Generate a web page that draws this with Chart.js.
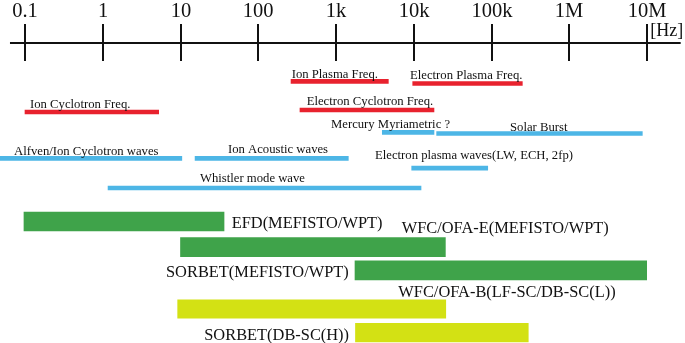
<!DOCTYPE html>
<html><head><meta charset="utf-8">
<script src="https://cdn.jsdelivr.net/npm/chart.js@4/dist/chart.umd.min.js"></script>
<style>html,body{margin:0;padding:0;background:#fff}#wrap{width:685px;height:343px;position:relative}</style>
</head><body><div id="wrap"><canvas id="c"></canvas></div>
<script>
// ---- DATA ----
// frequency axis (Hz)
const tickValues = [0.1, 1, 10, 100, 1e3, 1e4, 1e5, 1e6, 1e7];
const tickLabels = ['0.1', '1', '10', '100', '1k', '10k', '100k', '1M', '10M'];
const axisUnit = '[Hz]';

// bands (categories) and their frequency ranges in Hz
const bandNames = [
  'Ion Plasma Freq.', 'Electron Plasma Freq.', 'Ion Cyclotron Freq.', 'Electron Cyclotron Freq.',
  'Mercury Myriametric ?', 'Solar Burst', 'Alfven/Ion Cyclotron waves', 'Ion Acoustic waves',
  'Electron plasma waves(LW, ECH, 2fp)', 'Whistler mode wave',
  'EFD(MEFISTO/WPT)', 'WFC/OFA-E(MEFISTO/WPT)', 'SORBET(MEFISTO/WPT)',
  'WFC/OFA-B(LF-SC/DB-SC(L))', 'SORBET(DB-SC(H))'
];
const bandLow  = [264, 9700, 0.1, 344, 3940, 19700, 0.04, 15.4, 9410, 1.17, 0.097, 10, 1755, 9.2, 1780];
const bandHigh = [4710, 249000, 5.24, 18200, 18200, 8.7e6, 10.4, 1440, 89400, 12400, 36.3, 25500, 9.9e6, 25800, 297000];
const bandGroup = ['freq', 'freq', 'freq', 'freq', 'wave', 'wave', 'wave', 'wave', 'wave', 'wave',
                   'efield', 'efield', 'efield', 'bfield', 'bfield'];

// ---- LAYOUT / STYLE (not data) ----
const lane = [81.3, 83.5, 112, 110, 132.3, 133.5, 158.3, 158.3, 168.2, 188, 221.5, 247.2, 270.3, 309, 332.7];
// label anchor (frequency where text starts) and baseline lane
const labelAt   = [269, 8950, 0.116, 420, 862, 173000, 0.0722, 40.8, 3173, 17.8, 45.5, 7000, 6.51, 6330, 20.2];
const labelLane = [78.3, 79.3, 107.7, 105, 128.3, 130.5, 155, 153, 159, 181.7, 228, 233.3, 277.3, 296.7, 340];
const groupStyle = {
  freq:   { color: '#e8222e', thick: 4 },
  wave:   { color: '#4db6e6', thick: 4 },
  efield: { color: '#3fa34a', thick: 19 },
  bfield: { color: '#d3e114', thick: 18.5 }
};
const groupFont = { freq: 12.7, wave: 12.7, efield: 16.4, bfield: 16.4 };
const xMin = 0.0477, xMax = 3.08e7;      // visible range of the frequency scale
const axisFrom = 0.0641, axisTo = 2.71e7; // extent of the drawn axis line
const axisLane = 43;

const datasets = Object.keys(groupStyle).map(g => ({
  label: g,
  data: bandNames.map((n, i) => i).filter(i => bandGroup[i] === g)
        .map(i => ({ x: [bandLow[i], bandHigh[i]], y: lane[i] })),
  backgroundColor: groupStyle[g].color,
  borderWidth: 0,
  barThickness: groupStyle[g].thick,
  grouped: false
}));

const overlay = {
  id: 'overlay',
  afterDraw(chart) {
    const ctx = chart.ctx, xs = chart.scales.x, ys = chart.scales.y;
    const yAx = ys.getPixelForValue(axisLane);
    ctx.save();
    ctx.strokeStyle = '#111';
    ctx.lineWidth = 2;
    ctx.beginPath();
    ctx.moveTo(xs.getPixelForValue(axisFrom), yAx);
    ctx.lineTo(xs.getPixelForValue(axisTo), yAx);
    ctx.stroke();
    ctx.fillStyle = '#111';
    ctx.textAlign = 'center';
    ctx.textBaseline = 'alphabetic';
    ctx.font = '20.5px "Liberation Serif"';
    tickValues.forEach((v, i) => {
      const px = Math.round(xs.getPixelForValue(v));
      ctx.beginPath();
      ctx.moveTo(px, yAx - 19);
      ctx.lineTo(px, yAx + 18);
      ctx.stroke();
      ctx.fillText(tickLabels[i], px, ys.getPixelForValue(17));
    });
    ctx.textAlign = 'left';
    ctx.font = '18px "Liberation Serif"';
    ctx.fillText(axisUnit, xs.getPixelForValue(1.1e7), ys.getPixelForValue(36));
    bandNames.forEach((n, i) => {
      ctx.font = groupFont[bandGroup[i]] + 'px "Liberation Serif"';
      ctx.fillText(n, xs.getPixelForValue(labelAt[i]), ys.getPixelForValue(labelLane[i]));
    });
    ctx.restore();
  }
};

new Chart(document.getElementById('c'), {
  type: 'bar',
  data: { datasets },
  options: {
    indexAxis: 'y',
    responsive: true,
    maintainAspectRatio: false,
    animation: false,
    events: [],
    layout: { padding: 0 },
    plugins: { legend: { display: false }, tooltip: { enabled: false } },
    scales: {
      x: { type: 'logarithmic', min: xMin, max: xMax, bounds: 'data', offset: false, display: false },
      y: { type: 'linear', min: 0, max: 343, reverse: true, offset: false, display: false }
    }
  },
  plugins: [overlay]
});
</script>
</body></html>
